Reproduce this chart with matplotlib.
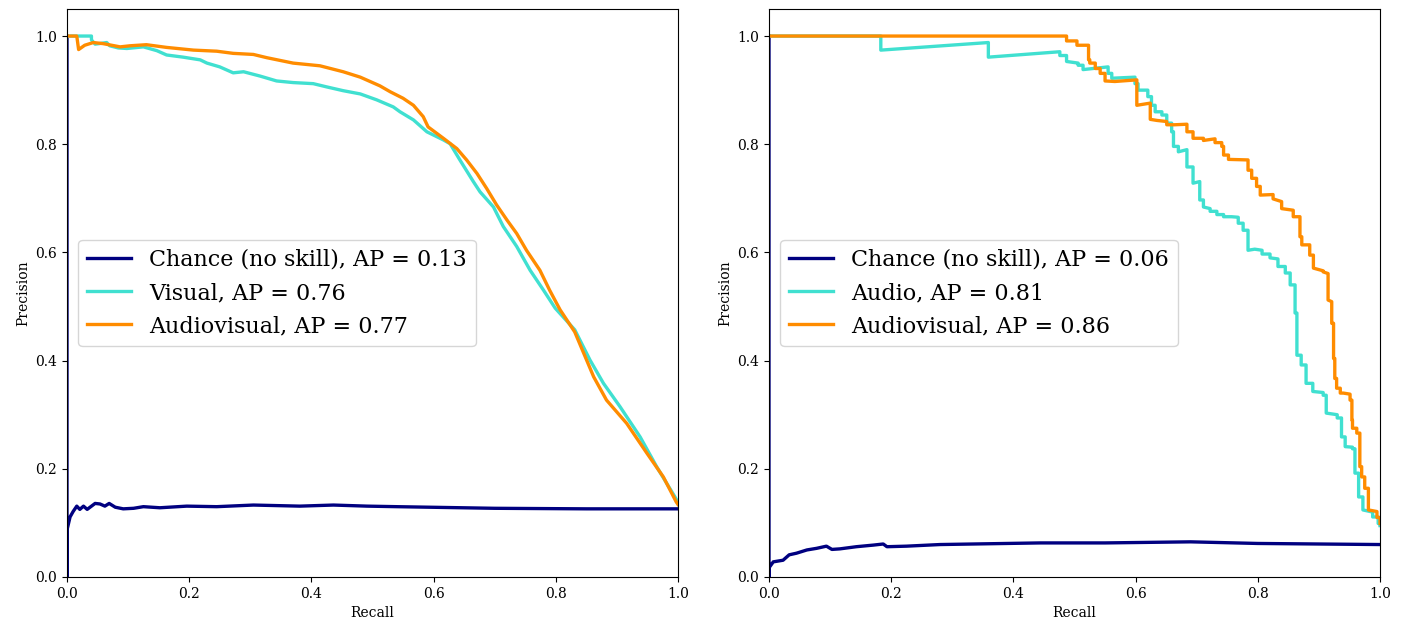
import matplotlib
matplotlib.use("Agg")
import matplotlib.pyplot as plt

plt.rcParams['font.family'] = ['DejaVu Serif']

# ---------------- Left panel (Visual vs Audiovisual) ----------------
left_chance_recall = [0.0, 0.0, 0.0, 0.005, 0.010, 0.016, 0.021, 0.027, 0.033, 0.046, 0.054, 0.062,
                      0.069, 0.079, 0.092, 0.109, 0.125, 0.152, 0.196, 0.245, 0.305, 0.381, 0.436,
                      0.491, 0.540, 0.700, 0.850, 1.0]
left_chance_precision = [1.0, 0.0, 0.087, 0.111, 0.121, 0.131, 0.125, 0.131, 0.125, 0.136, 0.135, 0.131,
                         0.136, 0.129, 0.126, 0.127, 0.130, 0.128, 0.131, 0.130, 0.133, 0.131, 0.133,
                         0.131, 0.130, 0.127, 0.126, 0.126]

visual_recall = [0.0, 0.040, 0.040, 0.046, 0.065, 0.070, 0.084, 0.098, 0.125, 0.147, 0.163, 0.190,
                 0.218, 0.229, 0.250, 0.272, 0.289, 0.316, 0.343, 0.370, 0.403, 0.425, 0.452, 0.480,
                 0.507, 0.534, 0.545, 0.567, 0.589, 0.616, 0.627, 0.643, 0.665, 0.676, 0.698, 0.714,
                 0.736, 0.758, 0.780, 0.799, 0.831, 0.856, 0.878, 0.905, 0.938, 0.965, 0.995, 1.0]
visual_precision = [1.0, 1.0, 0.993, 0.985, 0.988, 0.982, 0.978, 0.977, 0.980, 0.973, 0.965, 0.961,
                    0.956, 0.950, 0.943, 0.932, 0.934, 0.926, 0.917, 0.914, 0.912, 0.906, 0.899, 0.893,
                    0.882, 0.869, 0.860, 0.845, 0.823, 0.808, 0.801, 0.771, 0.731, 0.712, 0.684, 0.648,
                    0.611, 0.567, 0.530, 0.497, 0.457, 0.401, 0.358, 0.315, 0.259, 0.204, 0.148, 0.138]

av_left_recall = [0.0, 0.016, 0.019, 0.029, 0.043, 0.059, 0.087, 0.103, 0.130, 0.163, 0.207, 0.245,
                  0.272, 0.305, 0.327, 0.370, 0.414, 0.452, 0.480, 0.512, 0.529, 0.550, 0.567, 0.583,
                  0.591, 0.616, 0.638, 0.654, 0.671, 0.687, 0.703, 0.720, 0.736, 0.752, 0.774, 0.790,
                  0.807, 0.831, 0.862, 0.883, 0.916, 0.949, 0.976, 0.997, 1.0]
av_left_precision = [1.0, 1.0, 0.975, 0.983, 0.988, 0.986, 0.980, 0.982, 0.984, 0.979, 0.974, 0.972,
                     0.968, 0.966, 0.960, 0.950, 0.945, 0.934, 0.924, 0.908, 0.897, 0.885, 0.872, 0.851,
                     0.832, 0.811, 0.792, 0.771, 0.746, 0.718, 0.688, 0.660, 0.635, 0.604, 0.567, 0.530,
                     0.494, 0.453, 0.370, 0.327, 0.284, 0.229, 0.185, 0.139, 0.134]

left_labels = ["Chance (no skill), AP = 0.13", "Visual, AP = 0.76", "Audiovisual, AP = 0.77"]

# ---------------- Right panel (Audio vs Audiovisual) ----------------
right_chance_recall = [0.0, 0.0, 0.0, 0.007, 0.023, 0.033, 0.045, 0.062, 0.078, 0.094, 0.103, 0.116,
                       0.143, 0.171, 0.187, 0.193, 0.225, 0.280, 0.334, 0.389, 0.444, 0.550, 0.690,
                       0.800, 0.900, 1.0]
right_chance_precision = [1.0, 0.0, 0.017, 0.028, 0.031, 0.041, 0.044, 0.050, 0.053, 0.057, 0.051, 0.052,
                          0.056, 0.059, 0.061, 0.056, 0.057, 0.060, 0.061, 0.062, 0.063, 0.063, 0.065,
                          0.062, 0.061, 0.060]

audio_points = [
    (0.000, 1.000), (0.183, 1.000), (0.183, 0.974), (0.359, 0.988), (0.359, 0.961),
    (0.476, 0.971), (0.476, 0.964), (0.487, 0.964), (0.487, 0.953), (0.506, 0.950),
    (0.506, 0.946), (0.514, 0.946), (0.514, 0.938), (0.555, 0.943), (0.555, 0.931),
    (0.561, 0.931), (0.561, 0.922), (0.599, 0.924), (0.599, 0.912), (0.604, 0.912),
    (0.604, 0.900), (0.620, 0.900), (0.620, 0.888), (0.626, 0.888), (0.626, 0.872),
    (0.632, 0.872), (0.632, 0.860), (0.643, 0.860), (0.643, 0.854), (0.651, 0.854),
    (0.651, 0.839), (0.659, 0.839), (0.659, 0.823), (0.662, 0.823), (0.662, 0.796),
    (0.670, 0.796), (0.670, 0.786), (0.684, 0.790), (0.684, 0.758), (0.694, 0.758),
    (0.694, 0.728), (0.705, 0.731), (0.705, 0.697), (0.711, 0.697), (0.711, 0.684),
    (0.722, 0.681), (0.722, 0.676), (0.733, 0.676), (0.733, 0.670), (0.744, 0.670),
    (0.744, 0.666), (0.757, 0.666), (0.768, 0.665), (0.768, 0.654), (0.776, 0.654),
    (0.776, 0.641), (0.784, 0.641), (0.784, 0.604), (0.795, 0.606), (0.807, 0.604),
    (0.807, 0.597), (0.820, 0.597), (0.820, 0.590), (0.833, 0.588), (0.833, 0.574),
    (0.845, 0.574), (0.845, 0.562), (0.853, 0.562), (0.853, 0.540), (0.861, 0.540),
    (0.861, 0.488), (0.864, 0.488), (0.864, 0.410), (0.871, 0.410), (0.871, 0.392),
    (0.879, 0.392), (0.879, 0.358), (0.890, 0.358), (0.890, 0.343), (0.907, 0.341),
    (0.907, 0.336), (0.912, 0.336), (0.912, 0.303), (0.930, 0.300), (0.930, 0.294),
    (0.937, 0.294), (0.937, 0.259), (0.943, 0.259), (0.943, 0.241), (0.955, 0.240),
    (0.955, 0.237), (0.959, 0.237), (0.959, 0.192), (0.965, 0.192), (0.965, 0.148),
    (0.972, 0.148), (0.972, 0.124), (0.988, 0.120), (0.988, 0.111), (0.997, 0.111),
    (0.997, 0.099), (1.000, 0.099), (1.000, 0.095),
]

av_right_points = [
    (0.000, 1.000), (0.487, 1.000), (0.487, 0.991), (0.504, 0.991), (0.504, 0.983),
    (0.523, 0.983), (0.523, 0.956), (0.525, 0.956), (0.525, 0.950), (0.534, 0.950),
    (0.534, 0.940), (0.542, 0.940), (0.542, 0.931), (0.550, 0.931), (0.550, 0.917),
    (0.566, 0.916), (0.602, 0.919), (0.602, 0.872), (0.624, 0.876), (0.624, 0.846),
    (0.635, 0.844), (0.651, 0.842), (0.651, 0.836), (0.664, 0.836), (0.684, 0.837),
    (0.684, 0.823), (0.694, 0.823), (0.694, 0.811), (0.711, 0.811), (0.711, 0.807),
    (0.730, 0.810), (0.730, 0.803), (0.741, 0.803), (0.741, 0.796), (0.744, 0.796),
    (0.744, 0.780), (0.752, 0.780), (0.752, 0.772), (0.784, 0.771), (0.784, 0.752),
    (0.790, 0.752), (0.790, 0.737), (0.798, 0.737), (0.798, 0.722), (0.804, 0.722),
    (0.804, 0.706), (0.825, 0.707), (0.825, 0.699), (0.839, 0.694), (0.839, 0.681),
    (0.858, 0.678), (0.858, 0.666), (0.869, 0.666), (0.869, 0.629), (0.872, 0.629),
    (0.872, 0.614), (0.885, 0.614), (0.885, 0.595), (0.891, 0.595), (0.891, 0.571),
    (0.907, 0.566), (0.907, 0.564), (0.915, 0.561), (0.915, 0.512), (0.921, 0.509),
    (0.921, 0.469), (0.924, 0.469), (0.924, 0.404), (0.926, 0.404), (0.926, 0.367),
    (0.929, 0.367), (0.929, 0.349), (0.935, 0.349), (0.935, 0.340), (0.940, 0.340),
    (0.951, 0.338), (0.951, 0.327), (0.954, 0.327), (0.954, 0.290), (0.955, 0.290),
    (0.955, 0.275), (0.962, 0.275), (0.962, 0.266), (0.967, 0.266), (0.967, 0.204),
    (0.970, 0.204), (0.970, 0.185), (0.975, 0.185), (0.975, 0.164), (0.981, 0.164),
    (0.981, 0.124), (0.995, 0.121), (0.995, 0.110), (1.000, 0.110), (1.000, 0.099),
]

right_labels = ["Chance (no skill), AP = 0.06", "Audio, AP = 0.81", "Audiovisual, AP = 0.86"]

colors = ["navy", "turquoise", "darkorange"]
tick_values = [0.0, 0.2, 0.4, 0.6, 0.8, 1.0]

fig = plt.figure(figsize=(14.06, 6.25), dpi=100)
ax1 = fig.add_axes([67 / 1406, 48 / 625, 611 / 1406, 568 / 625])
ax2 = fig.add_axes([769 / 1406, 48 / 625, 611 / 1406, 568 / 625])

lw = 2.4
ax1.plot(left_chance_recall, left_chance_precision, color=colors[0], lw=lw, label=left_labels[0])
ax1.plot(visual_recall, visual_precision, color=colors[1], lw=lw, label=left_labels[1])
ax1.plot(av_left_recall, av_left_precision, color=colors[2], lw=lw, label=left_labels[2])

ar, ap = zip(*audio_points)
vr, vp = zip(*av_right_points)
ax2.plot(right_chance_recall, right_chance_precision, color=colors[0], lw=lw, label=right_labels[0])
ax2.plot(ar, ap, color=colors[1], lw=lw, label=right_labels[1])
ax2.plot(vr, vp, color=colors[2], lw=lw, label=right_labels[2])

for ax in (ax1, ax2):
    ax.set_xlim(0.0, 1.0)
    ax.set_ylim(0.0, 1.05)
    ax.set_xticks(tick_values)
    ax.set_yticks(tick_values)
    ax.set_xlabel("Recall", fontsize=10)
    ax.set_ylabel("Precision", fontsize=10)
    ax.tick_params(labelsize=10)
    leg = ax.legend(loc="center left", fontsize=16)
    for line in leg.get_lines():
        line.set_linewidth(lw)

fig.savefig("out.png", dpi=100)
